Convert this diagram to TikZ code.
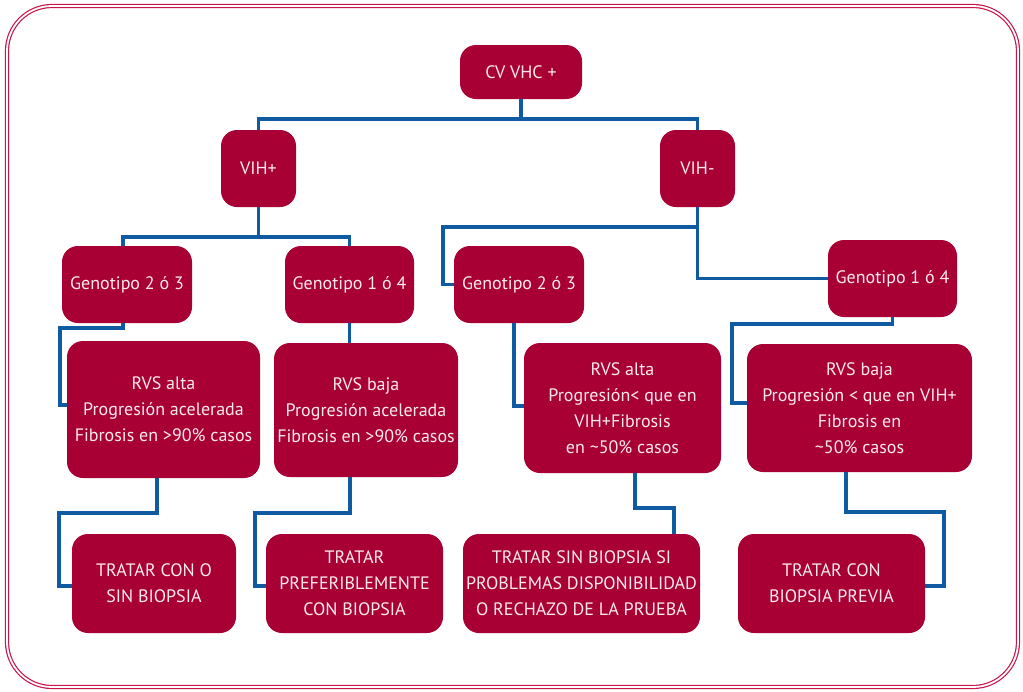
\documentclass[tikz,border=0pt]{standalone}
\usepackage{fontspec}
\setmainfont{PT Sans}
\usetikzlibrary{calc}

\definecolor{boxred}{RGB}{168,0,52}
\definecolor{boxtext}{RGB}{250,234,238}
\definecolor{linkblue}{RGB}{15,90,160}
\definecolor{framered}{RGB}{200,22,75}

\begin{document}
\begin{tikzpicture}[x=1pt, y=-1pt]

\tikzstyle{box} = [rectangle, rounded corners=16pt, inner sep=0pt, align=center, fill=boxred, text=boxtext, font=\fontsize{18}{26}\selectfont]
\tikzstyle{line} = [linkblue, line width=3.2pt]

\useasboundingbox (0,0) rectangle (1023,691);
\draw [framered, line width=1.2pt, double=white, double distance=1.8pt, rounded corners=45pt] (7,6) rectangle (1018,687);

% Define nodes
\node (cv) [box, minimum width=122pt, minimum height=54pt] at (521,72) {CV VHC +};
\node (vihP) [box, minimum width=75pt, minimum height=77pt] at (258.5,168.5) {VIH+};
\node (vihN) [box, minimum width=75pt, minimum height=77pt] at (697.5,168.5) {VIH-};
\node (gen23L) [box, minimum width=130pt, minimum height=77pt] at (127,284.5) {Genotipo 2 ó 3};
\node (gen14L) [box, minimum width=129pt, minimum height=77pt] at (349.5,284.5) {Genotipo 1 ó 4};
\node (gen23R) [box, minimum width=130pt, minimum height=77pt] at (519,284.5) {Genotipo 2 ó 3};
\node (gen14R) [box, minimum width=129pt, minimum height=77pt] at (892.5,278.5) {Genotipo 1 ó 4};
\node (rvsAL) [box, minimum width=193pt, minimum height=137pt] at (163.5,409.5) {RVS alta\\Progresión acelerada\\Fibrosis en >90\% casos};
\node (rvsBL) [box, minimum width=184pt, minimum height=134pt] at (366,410) {RVS baja\\Progresión acelerada\\Fibrosis en >90\% casos};
\node (rvsAR) [box, minimum width=197pt, minimum height=130pt] at (622.5,408) {RVS alta\\Progresión< que en\\VIH+Fibrosis\\en \textasciitilde 50\% casos};
\node (rvsBR) [box, minimum width=225pt, minimum height=128pt] at (859.5,408) {RVS baja\\Progresión < que en VIH+\\Fibrosis en\\\textasciitilde 50\% casos};
\node (tratA) [box, minimum width=164pt, minimum height=99pt] at (154,583.5) {TRATAR CON O\\SIN BIOPSIA};
\node (tratB) [box, minimum width=177pt, minimum height=99pt] at (354.5,583.5) {TRATAR\\PREFERIBLEMENTE\\CON BIOPSIA};
\node (tratC) [box, minimum width=237pt, minimum height=99pt] at (581.5,583.5) {TRATAR SIN BIOPSIA SI\\PROBLEMAS DISPONIBILIDAD\\O RECHAZO DE LA PRUEBA};
\node (tratD) [box, minimum width=187pt, minimum height=99pt] at (831.5,583.5) {TRATAR CON\\BIOPSIA PREVIA};

% Junctions
\coordinate (j1) at (521,119);
\coordinate (j2) at (258.5,237);
\coordinate (j3) at (697.5,227);
\coordinate (k3) at (443,227);
\coordinate (k4) at (60,328);
\coordinate (k7) at (732,324);
\coordinate (k8) at (59,513);
\coordinate (k9) at (255,513);
\coordinate (k10) at (674,508);
\coordinate (k11) at (944,512);

% Draw links
\draw [line] (cv.south) -- (j1);
\draw [line] (vihP.north) |- (j1) -| (vihN.north);
\draw [line] (vihP.south) -- (j2);
\draw [line] ([xshift=-4pt]gen23L.north) |- (j2) -| (gen14L.north);
\draw [line] (vihN.south) |- (gen14R.west);
\draw [line] (j3) -- (k3) |- (gen23R.west);
\draw [line] ([xshift=-4pt]gen23L.south) |- (k4) |- ([yshift=4.5pt]rvsAL.west);
\draw [line] (gen14L.south) -- (gen14L.south |- rvsBL.north);
\draw [line] ([xshift=-5pt]gen23R.south) |- ([yshift=2pt]rvsAR.west);
\draw [line] (gen14R.south) |- (k7) |- ([yshift=5pt]rvsBR.west);
\draw [line] ([xshift=-6.5pt]rvsAL.south) |- (k8) |- ([yshift=-2.5pt]tratA.west);
\draw [line] ([xshift=-16pt]rvsBL.south) |- (k9) |- ([yshift=-2.5pt]tratB.west);
\draw [line] ([xshift=12.5pt]rvsAR.south) |- (k10) -- (k10 |- tratC.north);
\draw [line] ([xshift=-13.5pt]rvsBR.south) |- (k11) |- ([yshift=-2.5pt]tratD.east);

\end{tikzpicture}
\end{document}
